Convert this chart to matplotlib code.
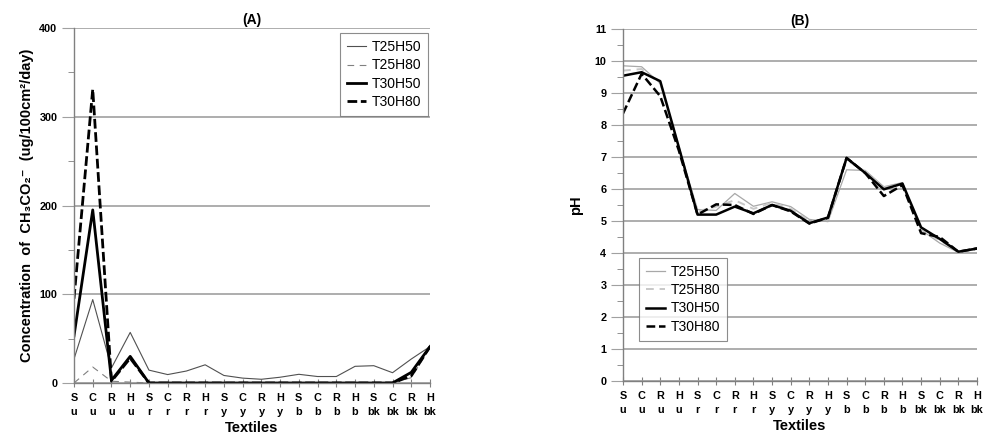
import numpy as np
import matplotlib
matplotlib.use("Agg")
import matplotlib.pyplot as plt
from matplotlib.ticker import MultipleLocator

plt.rcParams['font.family'] = ['Liberation Sans', 'DejaVu Sans']

textiles = ["S\nu", "C\nu", "R\nu", "H\nu", "S\nr", "C\nr", "R\nr", "H\nr",
            "S\ny", "C\ny", "R\ny", "H\ny", "S\nb", "C\nb", "R\nb", "H\nb",
            "S\nbk", "C\nbk", "R\nbk", "H\nbk"]
series = ["T25H50", "T25H80", "T30H50", "T30H80"]

# (A) acetate concentration, ug/100cm2/day
conc_t25h50 = [27, 94, 17, 57, 14.5, 9.5, 13.5, 20.5, 8.5, 5.5, 4.2, 6.5,
               9.8, 7.3, 7.3, 18.8, 19.5, 11.6, 27, 41]
conc_t25h80 = [0, 18, 2, 1, 0, 0, 0, 0, 0, 0, 0, 0,
               0, 0, 0, 0, 0, 0, 6, 40]
conc_t30h50 = [53, 195, 3, 30, 0, 0, 0, 0, 0, 0, 0, 0,
               0, 0, 0, 0, 0, 0, 12, 41]
conc_t30h80 = [95, 331, 2, 28, 0, 0, 0, 0, 0, 0, 0, 0,
               0, 0, 0, 0, 0, 0, 8, 41]

# (B) pH
ph_t25h50 = [9.85, 9.82, 9.3, 7.3, 5.36, 5.33, 5.86, 5.46, 5.6, 5.45, 5.05, 4.98,
             6.6, 6.58, 6.07, 6.2, 4.72, 4.31, 4.02, 4.17]
ph_t25h80 = [9.7, 9.75, 9.3, 7.3, 5.3, 5.45, 5.65, 5.38, 5.57, 5.38, 5.0, 5.05,
             6.9, 6.55, 6.05, 6.15, 4.7, 4.4, 4.04, 4.12]
ph_t30h50 = [9.54, 9.65, 9.37, 7.3, 5.2, 5.2, 5.45, 5.24, 5.5, 5.32, 4.93, 5.11,
             6.97, 6.5, 5.99, 6.17, 4.8, 4.44, 4.04, 4.14]
ph_t30h80 = [8.36, 9.6, 8.9, 7.2, 5.2, 5.52, 5.5, 5.22, 5.5, 5.3, 4.92, 5.1,
             6.97, 6.5, 5.78, 6.12, 4.62, 4.5, 4.04, 4.14]

x = np.arange(len(textiles))

fig = plt.figure(figsize=(9.85, 4.36), dpi=100)
axA = fig.add_axes([74 / 985, 1 - 383 / 436, 356 / 985, 355 / 436])
axB = fig.add_axes([623 / 985, 1 - 381 / 436, 354 / 985, 352 / 436])

grid_col = '#a0a0a0'
spine_col = '#808080'


def style(ax, ymax, major, minor):
    ax.set_xlim(0, len(textiles) - 1)
    ax.set_ylim(0, ymax)
    ax.set_yticks(np.arange(0, ymax + major / 2, major))
    ax.yaxis.set_minor_locator(MultipleLocator(minor))
    ax.set_xticks(x)
    ax.set_xticklabels(textiles, fontsize=7.8, fontweight='bold', linespacing=1.55)
    ax.set_yticklabels(['%g' % v for v in ax.get_yticks()], fontweight='bold')
    ax.tick_params(axis='y', which='major', direction='out', length=9,
                   color=grid_col, labelsize=7.8, pad=3)
    ax.tick_params(axis='y', which='minor', direction='out', length=4, color=spine_col)
    ax.tick_params(axis='x', direction='inout', length=6, color=spine_col, pad=4)
    for s in ['top', 'right']:
        ax.spines[s].set_visible(False)
    for s in ['left', 'bottom']:
        ax.spines[s].set_color(spine_col)
        ax.spines[s].set_linewidth(1.0)
    ax.yaxis.grid(True, which='major', color=grid_col, linewidth=1.2)
    ax.set_axisbelow(True)
    ax.set_xlabel('Textiles', fontsize=10.5, fontweight='bold', labelpad=3)


# panel A
axA.plot(x, conc_t25h50, color='#505050', lw=0.8, label=series[0])
axA.plot(x, conc_t25h80, color='#808080', lw=0.8, dashes=(6, 5), label=series[1])
axA.plot(x, conc_t30h50, color='black', lw=2.0, label=series[2])
axA.plot(x, conc_t30h80, color='black', lw=2.0, dashes=(3.5, 1.3), label=series[3])
style(axA, 400, 100, 50)
axA.set_title('(A)', fontsize=10, fontweight='bold', pad=3)
axA.set_ylabel('Concentration  of  CH\u2083CO\u2082\u207b  (ug/100cm\u00b2/day)',
               fontsize=10.5, fontweight='bold', labelpad=4)
legA = axA.legend(loc='upper right', bbox_to_anchor=(0.995, 0.985), fontsize=10,
                  frameon=True, fancybox=False, edgecolor='#707070', handlelength=1.4,
                  handletextpad=0.4, labelspacing=0.3, borderpad=0.5, borderaxespad=0)
legA.get_frame().set_linewidth(0.8)

# panel B
axB.plot(x, ph_t25h50, color='#a8a8a8', lw=0.9, label=series[0])
axB.plot(x, ph_t25h80, color='#c8c8c8', lw=1.4, dashes=(4, 3), label=series[1])
axB.plot(x, ph_t30h50, color='black', lw=1.8, label=series[2])
axB.plot(x, ph_t30h80, color='black', lw=1.8, dashes=(3.5, 1.5), label=series[3])
style(axB, 11, 1, 0.5)
axB.set_title('(B)', fontsize=10, fontweight='bold', pad=3)
axB.set_ylabel('pH', fontsize=10.5, fontweight='bold', labelpad=8)
legB = axB.legend(loc='lower left', bbox_to_anchor=(0.045, 0.115), fontsize=10,
                  frameon=True, fancybox=False, edgecolor='#707070', handlelength=1.4,
                  handletextpad=0.4, labelspacing=0.3, borderpad=0.5, borderaxespad=0)
legB.get_frame().set_linewidth(0.8)

fig.savefig('out.png', dpi=100)
